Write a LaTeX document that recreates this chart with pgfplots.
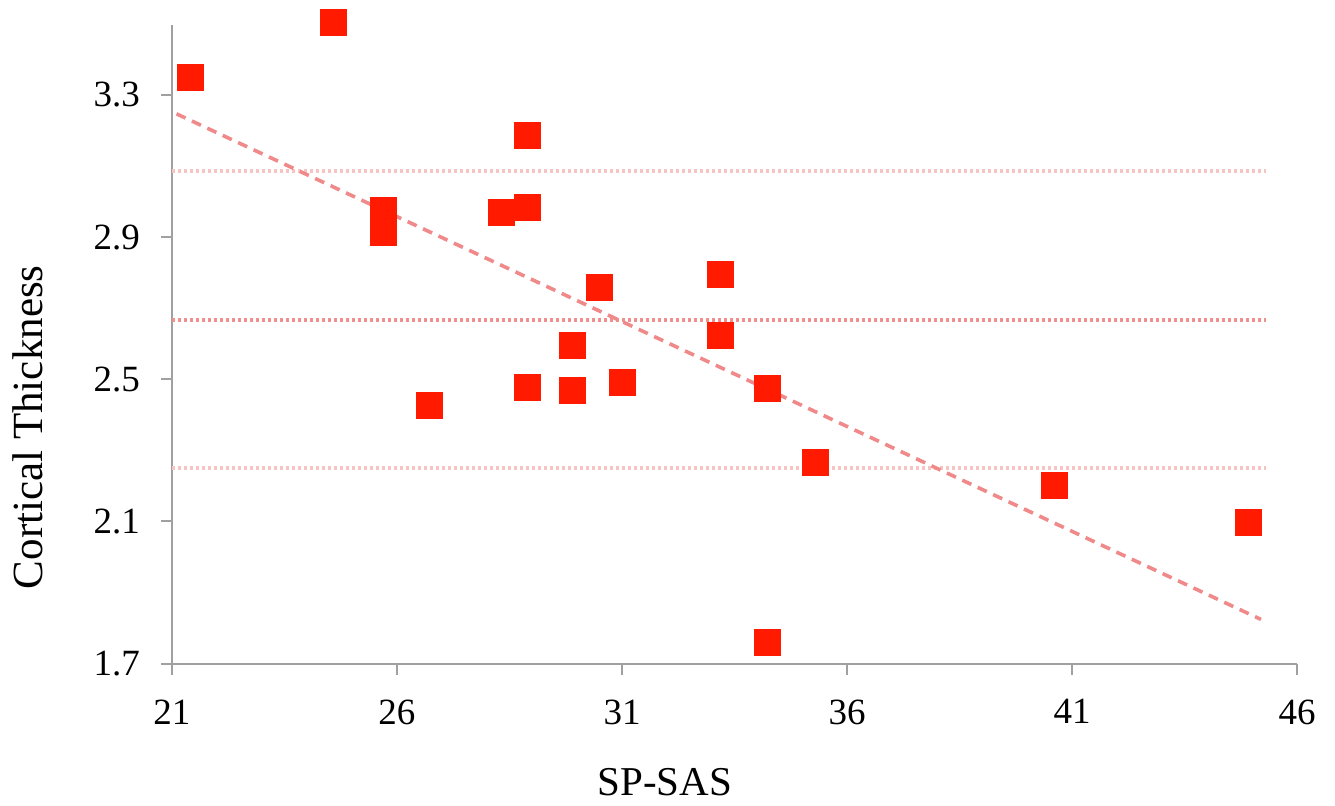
\documentclass[border=0pt]{standalone}
\usepackage{fontspec}
\setmainfont{Liberation Serif}
\usepackage{pgfplots}
\pgfplotsset{compat=1.18}

\definecolor{ptred}{HTML}{FF1A00}
\definecolor{trendpink}{HTML}{F08A8A}
\definecolor{sdpink}{HTML}{F7C4C4}
\definecolor{meanpink}{HTML}{EF9090}
\definecolor{axgray}{HTML}{A0A0A0}

\begin{document}
\begin{tikzpicture}
\begin{axis}[
    name=ax,
    scale only axis,
    width=562.5pt, height=319.25pt,
    xmin=21, xmax=46,
    ymin=1.7, ymax=3.497,
    xtick={21,26,31,36,41,46},
    ytick={1.7,2.1,2.5,2.9,3.3},
    axis x line*=bottom,
    axis y line*=left,
    axis line style={axgray, line width=1pt},
    tick style={axgray, line width=1pt},
    tick align=outside,
    major tick length=5.5pt,
    clip=false,
    /pgf/number format/assume math mode=true,
    ticklabel style={font=\fontsize{18.5}{18.5}\selectfont},
    xticklabel style={yshift=-9pt},
    yticklabel style={xshift=-7pt, /pgf/number format/fixed,
        /pgf/number format/fixed zerofill, /pgf/number format/precision=1},
    xlabel={SP-SAS},
    ylabel={Cortical Thickness},
    xlabel style={at={(axis description cs:0.438,-0.1856)}, anchor=center,
        font=\fontsize{20.5}{20.5}\selectfont},
    ylabel style={at={(axis description cs:-0.128,0.37)}, anchor=center,
        font=\fontsize{21.5}{21.5}\selectfont},
]
% mean +/- SD lines
\addplot[sdpink, line width=1.8pt, dash pattern=on 1.5pt off 1.5pt]
    coordinates {(21,3.086) (45.3,3.086)};
\addplot[meanpink, line width=1.8pt, dash pattern=on 1.5pt off 1.5pt]
    coordinates {(21,2.666) (45.3,2.666)};
\addplot[sdpink, line width=1.8pt, dash pattern=on 1.5pt off 1.5pt]
    coordinates {(21,2.251) (45.3,2.251)};
% trend line
\addplot[trendpink, line width=1.8pt, dash pattern=on 5pt off 3.5pt]
    coordinates {(21.1,3.247) (45.2,1.824)};
% subjects
\addplot[ptred, only marks, mark=square*, mark size=6.5pt,
    mark options={fill=ptred, draw=ptred, line width=0pt}]
    coordinates {
    (21.42,3.348) (24.6,3.505) (25.69,2.976) (25.69,2.912) (26.73,2.425)
    (28.33,2.970) (28.89,2.984) (28.89,3.185) (28.89,2.478) (29.91,2.596)
    (29.91,2.467) (30.49,2.757) (31.02,2.490) (33.18,2.796) (33.18,2.622)
    (34.23,2.473) (34.23,1.760) (35.29,2.267) (40.62,2.202) (44.93,2.097)
    };
\end{axis}
\pgfresetboundingbox
\path[use as bounding box] ([shift={(-86pt,-70.75pt)}]ax.south west)
    rectangle ([shift={(19pt,12.5pt)}]ax.north east);
\end{tikzpicture}
\end{document}
